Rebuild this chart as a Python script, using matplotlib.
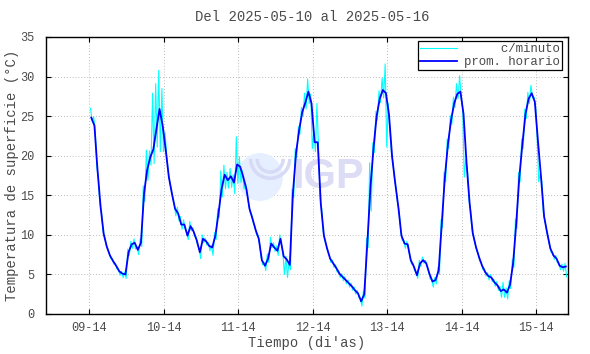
import numpy as np
import matplotlib
matplotlib.use("Agg")
import matplotlib.pyplot as plt
from matplotlib.patches import Ellipse, Arc

plt.rcParams["font.family"] = ["Liberation Mono", "DejaVu Sans Mono"]
plt.rcParams["font.size"] = 8.6

# Data (hours after the "09-14" tick)
title = "Del 2025-05-10 al 2025-05-16"
tick_labels = ["09-14", "10-14", "11-14", "12-14", "13-14", "14-14", "15-14"]
tick_hours = [0, 24, 48, 72, 96, 120, 144]

# hourly mean (prom. horario)
hourly = [
    24.8, 23.8, 18.2, 13.5, 10.1, 8.5, 7.4, 6.7, 6.1, 5.4, 5.1, 5.0,
    7.8, 8.8, 9.0, 8.1, 9.0, 15.2, 18.2, 19.8, 20.8, 23.4, 25.9, 23.8,
    20.7, 17.3, 15.2, 13.3, 12.7, 11.3, 11.3, 9.9, 11.1, 10.4, 9.3, 7.8,
    9.5, 9.2, 8.6, 8.4, 9.9, 12.7, 15.8, 17.6, 16.9, 17.4, 16.6, 18.9,
    18.6, 17.3, 15.8, 13.3, 12.0, 10.6, 9.5, 6.8, 6.1, 7.0, 8.9, 8.4,
    8.0, 9.5, 7.3, 6.9, 6.2, 15.2, 20.3, 23.2, 25.5, 26.7, 28.1, 26.6,
    21.7, 21.7, 13.9, 9.9, 8.3, 7.0, 6.4, 5.8, 5.1, 4.7, 4.3, 3.9,
    3.5, 3.0, 2.6, 1.6, 2.5, 9.0, 16.0, 21.0, 25.0, 27.2, 28.3, 27.9,
    25.1, 19.8, 16.5, 13.5, 9.9, 8.9, 8.8, 6.8, 6.0, 4.9, 6.4, 6.8,
    6.4, 5.1, 4.1, 4.3, 5.5, 11.4, 17.3, 21.5, 24.5, 26.6, 27.8, 28.1,
    25.3, 19.0, 13.9, 10.2, 8.5, 7.2, 6.1, 5.3, 4.8, 4.6, 4.0, 3.6,
    2.9, 3.1, 2.7, 3.7, 6.4, 11.4, 17.3, 21.5, 25.3, 27.2, 27.9, 26.8,
    21.9, 17.3, 12.3, 10.2, 8.3, 7.4, 7.0, 6.1, 5.9, 6.0,
]

# per-minute spread within each hour (c/minuto): how far above / below the mean
minute_up = [
    1.2, 1.1, 0.5, 0.4, 0.3, 0.3, 0.3, 0.3, 0.3, 0.3, 0.3, 0.3,
    0.4, 0.4, 0.5, 0.4, 0.5, 1.0, 2.5, 0.8, 7.1, 5.7, 4.9, 4.7,
    2.3, 0.8, 0.5, 0.6, 0.8, 1.0, 0.6, 0.5, 0.6, 0.5, 0.4, 0.5,
    0.5, 0.4, 0.4, 0.3, 0.4, 0.6, 2.3, 1.2, 1.0, 1.0, 1.0, 3.5,
    1.2, 0.8, 0.6, 0.5, 0.5, 0.5, 0.4, 0.4, 0.4, 0.6, 0.8, 0.6,
    0.6, 0.5, 0.5, 0.4, 0.4, 0.6, 0.6, 0.5, 0.6, 1.2, 1.6, 1.2,
    1.5, 4.9, 0.8, 0.5, 0.4, 0.4, 0.4, 0.4, 0.4, 0.4, 0.4, 0.4,
    0.4, 0.4, 0.4, 0.4, 0.4, 0.6, 3.1, 0.6, 0.6, 1.0, 1.5, 3.7,
    1.5, 0.6, 0.5, 0.5, 0.5, 0.4, 0.4, 0.4, 0.4, 0.4, 0.4, 0.4,
    0.4, 0.3, 0.3, 0.3, 0.4, 0.5, 0.6, 0.6, 0.6, 0.8, 1.3, 2.0,
    0.5, 0.5, 0.5, 0.4, 0.4, 0.4, 0.4, 0.4, 0.4, 0.4, 0.4, 0.5,
    0.6, 0.9, 0.6, 0.5, 0.5, 0.6, 0.6, 0.6, 0.6, 0.8, 1.0, 0.6,
    0.5, 0.5, 0.5, 0.4, 0.4, 0.4, 0.4, 0.4, 0.4, 0.4,
]
minute_down = [
    0.4, 0.5, 1.0, 0.5, 0.3, 0.3, 0.4, 0.4, 0.4, 0.5, 0.5, 0.5,
    0.4, 0.5, 0.8, 0.6, 0.5, 1.0, 1.3, 1.0, 1.8, 2.3, 5.4, 3.3,
    0.4, 0.5, 0.5, 0.9, 0.9, 0.6, 0.6, 0.5, 0.6, 0.6, 0.6, 0.8,
    0.5, 0.5, 0.6, 1.0, 0.5, 0.5, 1.0, 1.8, 1.0, 1.4, 1.4, 2.4,
    2.0, 1.5, 0.6, 0.5, 0.5, 0.6, 0.6, 0.6, 0.6, 0.5, 0.5, 0.5,
    0.6, 0.6, 2.3, 2.3, 0.6, 0.5, 0.6, 0.5, 0.5, 0.8, 1.5, 5.7,
    1.2, 0.6, 0.5, 0.5, 0.4, 0.5, 0.5, 0.5, 0.5, 0.5, 0.5, 0.5,
    0.5, 0.5, 0.5, 0.6, 0.5, 0.6, 3.0, 0.6, 0.5, 0.5, 1.0, 6.8,
    1.9, 0.6, 0.5, 0.5, 0.6, 0.6, 0.6, 0.5, 0.5, 0.4, 0.4, 0.4,
    0.4, 0.7, 0.7, 0.5, 0.5, 0.5, 0.6, 0.6, 0.5, 0.5, 0.6, 0.6,
    8.0, 0.6, 0.6, 0.5, 0.5, 0.5, 0.5, 0.5, 0.5, 0.5, 0.5, 0.6,
    0.8, 1.0, 0.8, 0.5, 0.5, 0.6, 0.6, 0.6, 0.6, 0.6, 0.6, 0.6,
    5.2, 0.6, 0.5, 0.5, 0.5, 0.5, 0.5, 0.5, 0.5, 1.3,
]

hourly = np.array(hourly)
t = np.arange(len(hourly)) + 0.6
hi = hourly + np.array(minute_up)
lo = hourly - np.array(minute_down)
t_min = np.column_stack([t - 0.25, t + 0.25]).ravel()
v_min = np.column_stack([hi, lo]).ravel()

# Figure
fig = plt.figure(figsize=(5.9, 3.54), dpi=100)
ax = fig.add_axes([0.0775, 0.113, 0.8847, 0.7825])
txt = "#4a4a4a"

# watermark
ax.add_patch(Ellipse((0.4105, 0.4946), 0.088, 0.173, transform=ax.transAxes,
                     facecolor="#e6efff", edgecolor="none", zorder=1))
for w, h in [(0.075, 0.14), (0.05, 0.095)]:
    ax.add_patch(Arc((0.43, 0.56), w, h, theta1=180, theta2=360,
                     transform=ax.transAxes, color="#d6daf4", lw=2.5, zorder=1))
ax.text(0.54, 0.4946, "IGP", transform=ax.transAxes, ha="center", va="center",
        fontsize=30, fontweight="bold", family="Liberation Sans",
        color="#dcdcf4", zorder=1)

ax.plot(t_min, v_min, color="#00ffff", lw=0.8, zorder=2,
        label="     c/minuto")
ax.plot(t, hourly, color="#0000ff", lw=1.3, zorder=3,
        label="prom. horario")

ax.set_xlim(-14.1, 154.2)
ax.set_ylim(0, 35)
ax.set_xticks(tick_hours)
ax.set_xticklabels(tick_labels)
ax.set_yticks(range(0, 36, 5))

ax.set_axisbelow(True)
ax.grid(True, color="#a8a8a8", lw=0.6, linestyle=(0, (1, 2.5)))
ax.tick_params(direction="in", top=True, right=True, length=3.6, width=0.8,
               colors="black", labelcolor=txt, labelsize=8.6)
ax.tick_params(axis="y", pad=8.4)
ax.tick_params(axis="x", pad=6)
for s in ax.spines.values():
    s.set_linewidth(1.0)

ax.set_xlabel("Tiempo (di'as)", color=txt, labelpad=1.0, fontsize=10)
ax.set_ylabel("Temperatura de superficie (°C)", color=txt, labelpad=0.5,
              fontsize=10)
fig.text(0.53, 1 - 17 / 354, title, ha="center", va="center", color=txt,
         fontsize=10)

leg = ax.legend(loc="upper right", bbox_to_anchor=(0.989, 0.9856),
                borderaxespad=0, fancybox=False, framealpha=1,
                edgecolor="black", borderpad=0.15, labelspacing=0.1,
                handlelength=3.0, handletextpad=0.6, fontsize=8.9)
leg.get_frame().set_linewidth(0.9)
for tx in leg.get_texts():
    tx.set_color(txt)

fig.savefig("out.png", dpi=100)
